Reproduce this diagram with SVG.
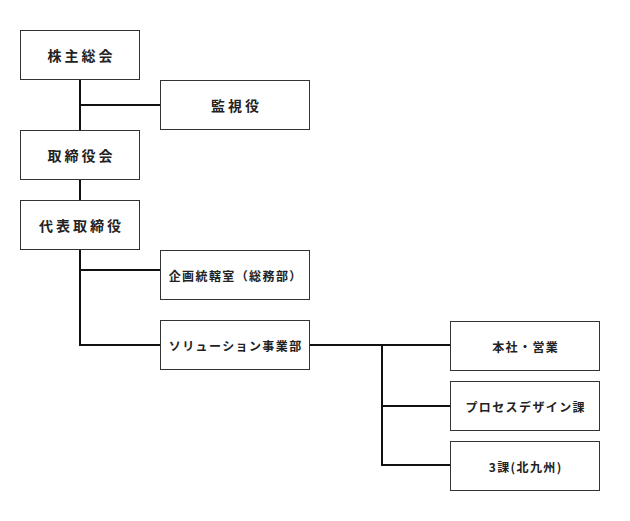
<svg xmlns="http://www.w3.org/2000/svg" width="630" height="521" viewBox="0 0 630 521">
<style>
.box{fill:#fff;stroke:#333;stroke-width:1}
.l{font-family:"Noto Sans CJK JP","Noto Sans",sans-serif;font-weight:bold;fill:#222;text-anchor:middle;dominant-baseline:central}
.big{font-size:14px;letter-spacing:3px}
.sm{font-size:12px;letter-spacing:1.4px}
.c{fill:none;stroke:#111;stroke-width:2}
</style>
<rect width="630" height="521" fill="#fff"/>
<g id="connectors">
<path class="c" d="M80 79.5V130.5M80 105H160.5M80 179.5V200.5M80 249.5V345H160.5M80 270H160.5M309.5 345H450.5M382 345V465H450.5M382 406H450.5"/>
</g>
<g id="n1"><rect class="box" x="20.5" y="30.5" width="119" height="49"/><text class="l big" x="81.5" y="55">株主総会</text></g>
<g id="n2"><rect class="box" x="160.5" y="80.5" width="149" height="49"/><text class="l big" x="236.5" y="105">監視役</text></g>
<g id="n3"><rect class="box" x="20.5" y="130.5" width="119" height="49"/><text class="l big" x="81.5" y="155">取締役会</text></g>
<g id="n4"><rect class="box" x="20.5" y="200.5" width="119" height="49"/><text class="l big" x="81.5" y="225">代表取締役</text></g>
<g id="n5"><rect class="box" x="160.5" y="250.5" width="149" height="49"/><text class="l sm" x="235.7" y="275">企画統轄室（総務部）</text></g>
<g id="n6"><rect class="box" x="160.5" y="320.5" width="149" height="49"/><text class="l sm" x="235.7" y="345">ソリューション事業部</text></g>
<g id="n7"><rect class="box" x="450.5" y="321.5" width="149" height="49"/><text class="l sm" x="525.7" y="346">本社・営業</text></g>
<g id="n8"><rect class="box" x="450.5" y="381.5" width="149" height="49"/><text class="l sm" x="525.7" y="406">プロセスデザイン課</text></g>
<g id="n9"><rect class="box" x="450.5" y="441.5" width="149" height="49"/><text class="l sm" x="525.7" y="466">3課(北九州)</text></g>
</svg>
